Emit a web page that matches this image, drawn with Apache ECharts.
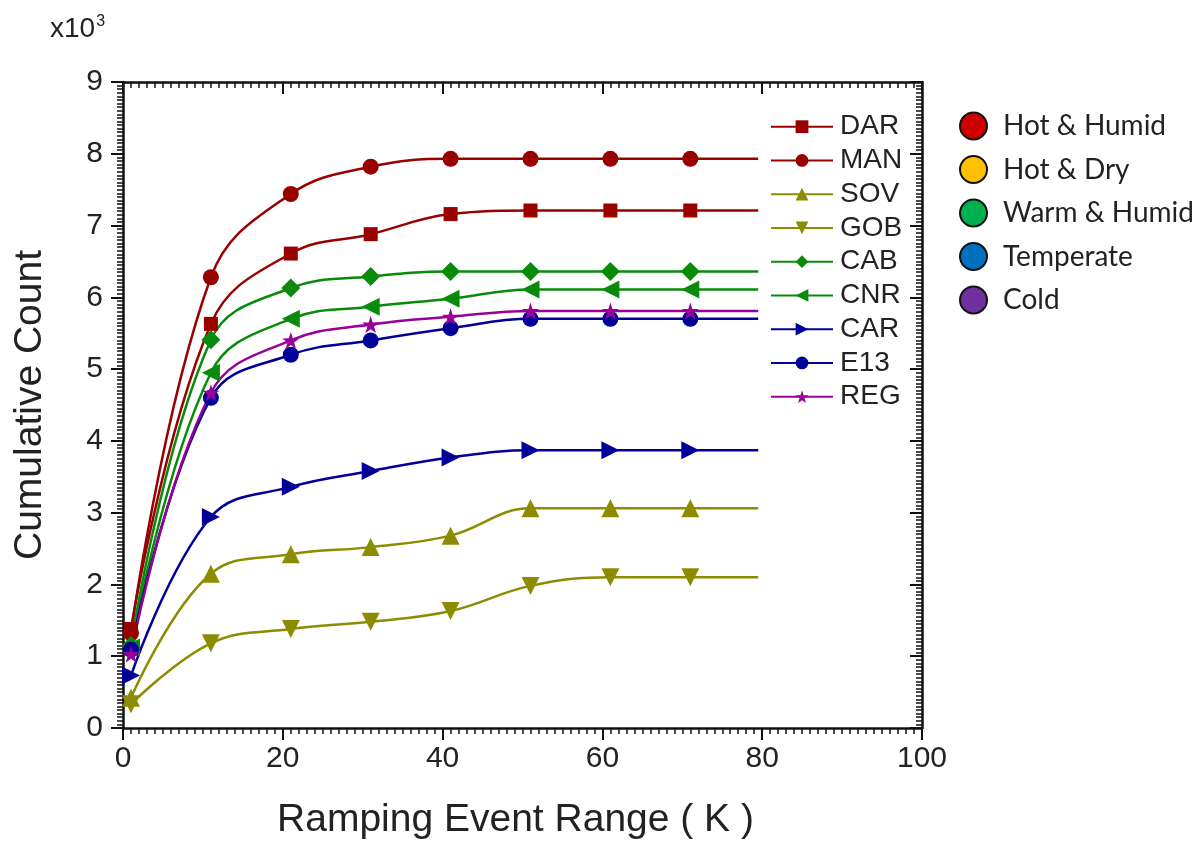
<!DOCTYPE html>
<html>
<head>
<meta charset="utf-8">
<script src="https://cdn.jsdelivr.net/npm/echarts@6/dist/echarts.min.js"></script>
<style>
    html, body { margin: 0; padding: 0; background: #fff; }
    #main { width: 1202px; height: 845px; }
</style>
</head>
<body>
<div id="main"></div>
<script>
// ramping event range (K); last x is only where the line stops, no marker
var ranges = [1, 11, 21, 31, 41, 51, 61, 71, 79.5];

// cumulative counts
var DAR = [1380, 5630, 6610, 6880, 7160, 7210, 7210, 7210, 7210];
var MAN = [1320, 6280, 7440, 7820, 7930, 7930, 7930, 7930, 7930];
var SOV = [420, 2150, 2420, 2520, 2680, 3060, 3060, 3060, 3060];
var GOB = [330, 1180, 1380, 1480, 1630, 1980, 2100, 2100, 2100];
var CAB = [1150, 5410, 6130, 6290, 6360, 6360, 6360, 6360, 6360];
var CNR = [1120, 4950, 5700, 5870, 5980, 6110, 6110, 6110, 6110];
var CAR = [730, 2940, 3360, 3580, 3770, 3870, 3870, 3870, 3870];
var E13 = [1090, 4600, 5200, 5400, 5570, 5700, 5700, 5700, 5700];
var REG = [1030, 4670, 5400, 5620, 5730, 5810, 5810, 5810, 5810];

var climates = ['Hot & Humid', 'Hot & Dry', 'Warm & Humid', 'Temperate', 'Cold'];
var climateColors = ['#d00000', '#ffc000', '#00b050', '#0070c0', '#7030a0'];

var star = 'path://M50,0 L61.8,35.1 L98.9,35.5 L69.1,57.6 L80.3,93 L50,71.5 L19.7,93 L30.9,57.6 L1.1,35.5 L38.2,35.1 Z';

var stations = [
    { name: 'DAR', values: DAR, color: '#990000', symbol: 'rect', size: 14, rotate: 0 },
    { name: 'MAN', values: MAN, color: '#990000', symbol: 'circle', size: 16, rotate: 0 },
    { name: 'SOV', values: SOV, color: '#8c8c00', symbol: 'triangle', size: 18, rotate: 0 },
    { name: 'GOB', values: GOB, color: '#8c8c00', symbol: 'triangle', size: 18, rotate: 180 },
    { name: 'CAB', values: CAB, color: '#0a8a0a', symbol: 'diamond', size: 19, rotate: 0 },
    { name: 'CNR', values: CNR, color: '#0a8a0a', symbol: 'triangle', size: 18, rotate: 90 },
    { name: 'CAR', values: CAR, color: '#000099', symbol: 'triangle', size: 18, rotate: -90 },
    { name: 'E13', values: E13, color: '#000099', symbol: 'circle', size: 16, rotate: 0 },
    { name: 'REG', values: REG, color: '#990099', symbol: star, size: 17, rotate: 0 }
];

var series = stations.map(function (s) {
    return {
        name: s.name,
        type: 'line',
        smooth: 0.4,
        symbol: s.symbol,
        symbolSize: s.size,
        symbolRotate: s.rotate,
        showAllSymbol: true,
        color: s.color,
        lineStyle: { width: 2.5, color: s.color },
        itemStyle: { color: s.color },
        data: s.values.map(function (v, i) {
            var item = { value: [ranges[i], v] };
            if (i === ranges.length - 1) item.symbol = 'none';
            return item;
        }),
        z: 3
    };
});

// empty series only so the climate legend gets its own entries
climates.forEach(function (c, i) {
    series.push({
        name: c,
        type: 'scatter',
        data: [],
        itemStyle: { color: climateColors[i], opacity: 1, borderColor: '#111', borderWidth: 2 }
    });
});

var tickFont = { fontFamily: 'Liberation Sans, Arial', fontSize: 30, color: '#222' };
var axisColor = '#111';

function mirror(pos) {
    return {
        type: 'value',
        position: pos,
        axisLine: { show: true, onZero: false, lineStyle: { color: axisColor, width: 2.5 } },
        axisTick: { show: true, inside: true, length: 12, lineStyle: { color: axisColor, width: 2 } },
        minorTick: { show: true, splitNumber: 20, length: 6, lineStyle: { color: axisColor, width: 1.5 } },
        axisLabel: { show: false },
        splitLine: { show: false }
    };
}

var topAxis = Object.assign(mirror('top'), { min: 0, max: 100, interval: 20 });
var rightAxis = Object.assign(mirror('right'), { min: 0, max: 9000, interval: 1000 });

var chart = echarts.init(document.getElementById('main'));
chart.setOption({
    animation: false,
    backgroundColor: '#fff',
    grid: { left: 123, right: 280, top: 82, bottom: 117, containLabel: false, outerBoundsMode: 'none' },
    graphic: [{
        type: 'text',
        left: 50,
        top: 14,
        style: {
            text: 'x10{sup|3}',
            font: '28px "Liberation Sans", Arial',
            fill: '#222',
            rich: { sup: { fontSize: 16, verticalAlign: 'top', padding: [0, 0, 14, 1], fill: '#222' } }
        }
    }],
    legend: [{
        data: stations.map(function (s) { return s.name; }),
        orient: 'vertical',
        left: 770,
        top: 112.7,
        padding: 0,
        itemWidth: 62,
        itemHeight: 16,
        itemGap: 5.75,
        textStyle: { fontFamily: 'Liberation Sans, Arial', fontSize: 28, color: '#222', padding: [0, 0, 0, 2] },
        selectedMode: false
    }, {
        data: climates,
        orient: 'vertical',
        left: 959,
        top: 111.5,
        padding: 0,
        icon: 'circle',
        itemWidth: 27,
        itemHeight: 27,
        itemGap: 14.5,
        textStyle: { fontFamily: 'Lato, "Open Sans", sans-serif', fontSize: 28, color: '#222', padding: [0, 0, 0, 11] },
        selectedMode: false
    }],
    xAxis: [{
        type: 'value',
        min: 0,
        max: 100,
        interval: 20,
        name: 'Ramping Event Range ( K )',
        nameLocation: 'middle',
        nameGap: 73,
        nameTextStyle: { fontFamily: 'Liberation Sans, Arial', fontSize: 39, color: '#222', padding: [0, 14, 0, 0] },
        axisLine: { onZero: false, lineStyle: { color: axisColor, width: 2.5 } },
        axisTick: { length: 12, lineStyle: { color: axisColor, width: 2 } },
        minorTick: { show: true, splitNumber: 20, length: 6, lineStyle: { color: axisColor, width: 1.5 } },
        axisLabel: Object.assign({ margin: 16 }, tickFont),
        splitLine: { show: false }
    }, topAxis],
    yAxis: [{
        type: 'value',
        min: 0,
        max: 9000,
        interval: 1000,
        name: 'Cumulative Count',
        nameLocation: 'middle',
        nameGap: 73,
        nameTextStyle: { fontFamily: 'Liberation Sans, Arial', fontSize: 39, color: '#222' },
        axisLine: { show: true, onZero: false, lineStyle: { color: axisColor, width: 2.5 } },
        axisTick: { show: true, length: 12, lineStyle: { color: axisColor, width: 2 } },
        minorTick: { show: true, splitNumber: 20, length: 6, lineStyle: { color: axisColor, width: 1.5 } },
        axisLabel: Object.assign({ margin: 20, formatter: function (v) { return v / 1000; } }, tickFont),
        splitLine: { show: false }
    }, rightAxis],
    series: series
});
</script>
</body>
</html>
